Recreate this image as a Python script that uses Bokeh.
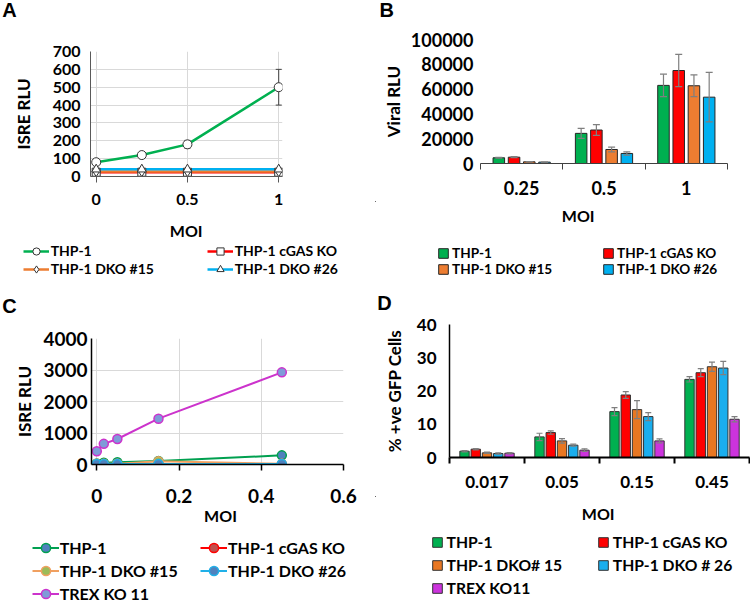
import math
from bokeh.plotting import figure
from bokeh.layouts import row, column
from bokeh.models import (ColumnDataSource, Range1d, FixedTicker, Legend, LegendItem,
                          Label, Whisker, TeeHead, NumeralTickFormatter)
from bokeh.embed import file_html
from bokeh.resources import INLINE

try:
    from bokeh.models import ScrollBox

    def wrap(p, w, h):
        return ScrollBox(child=p, width=w, height=h,
                         horizontal_scrollbar="hidden", vertical_scrollbar="hidden")
except ImportError:
    def wrap(p, w, h):
        return column(p)

FONT = "Lato"

# ---------------- data ----------------
series4 = ["THP-1", "THP-1 cGAS KO", "THP-1 DKO #15", "THP-1 DKO #26"]
colors4 = ["#00B050", "#FF0000", "#ED7D31", "#00B0F0"]

# Panel A
moi_a = [0, 0.25, 0.5, 1]
a_thp1 = [80, 120, 180, 500]
a_thp1_err = [8, 14, 22, 100]
a_cgas = [24, 24, 24, 24]
a_dko15 = [28, 28, 28, 28]
a_dko26 = [40, 40, 40, 40]

# Panel B
moi_b = ["0.25", "0.5", "1"]
b_thp1 = [4600, 24300, 63000]
b_thp1_err = [300, 4000, 9000]
b_cgas = [5100, 27000, 75000]
b_cgas_err = [400, 4300, 13000]
b_dko15 = [1350, 11300, 62700]
b_dko15_err = [150, 1900, 8700]
b_dko26 = [1100, 8100, 53500]
b_dko26_err = [100, 1350, 20000]

# Panel C
series5c = ["THP-1", "THP-1 cGAS KO", "THP-1 DKO #15", "THP-1 DKO #26", "TREX KO 11"]
line_colors_c = ["#00A050", "#FF0000", "#F0A060", "#20B0E8", "#CC33CC"]
marker_fill_c = ["#4F81BD", "#C0504D", "#9BBB59", "#4F81BD", "#7F9BD8"]
moi_c = [0, 0.017, 0.05, 0.15, 0.45]
c_thp1 = [35, 55, 70, 110, 290]
c_cgas = [12, 12, 12, 12, 12]
c_dko15 = [20, 20, 25, 100, 20]
c_dko26 = [15, 15, 15, 15, 15]
c_trex = [420, 655, 810, 1455, 2925]

# Panel D
series5d = ["THP-1", "THP-1 cGAS KO", "THP-1 DKO# 15", "THP-1 DKO # 26", "TREX KO11"]
colors5d = ["#00B050", "#FF0000", "#E87722", "#1AAEEE", "#CC33DD"]
moi_d = ["0.017", "0.05", "0.15", "0.45"]
d_thp1 = [1.9, 6.2, 13.8, 23.5]
d_thp1_err = [0.2, 1.1, 1.2, 0.8]
d_cgas = [2.5, 7.5, 18.8, 25.5]
d_cgas_err = [0.2, 0.5, 1.0, 1.2]
d_dko15 = [1.4, 5.0, 14.4, 27.3]
d_dko15_err = [0.2, 0.7, 2.7, 1.4]
d_dko26 = [1.2, 3.7, 12.3, 26.9]
d_dko26_err = [0.2, 0.3, 1.2, 2.0]
d_trex = [1.3, 2.2, 5.0, 11.5]
d_trex_err = [0.2, 0.4, 0.6, 0.8]

PW = 375   # panel width
OFF = [-60]  # legend swatch renderers sit outside the visible area


# ---------------- helpers ----------------
def make_plot(px0, fy0, fy1, frame, xr, yr):
    x0, y0, x1, y1 = frame
    p = figure(frame_width=x1 - x0, frame_height=y1 - y0,
               min_border_left=x0 - px0, min_border_right=px0 + PW - x1,
               min_border_top=y0 - fy0, min_border_bottom=fy1 - y1,
               x_range=Range1d(*xr), y_range=Range1d(*yr),
               output_backend="svg", toolbar_location=None,
               outline_line_color=None, border_fill_color="white",
               background_fill_color="white")
    return p


def make_blank(h):
    p = figure(frame_width=PW, frame_height=h, min_border=0,
               min_border_left=0, min_border_right=0, min_border_top=0, min_border_bottom=0,
               x_range=Range1d(0, PW), y_range=Range1d(h, 0),
               x_axis_location=None, y_axis_location=None,
               output_backend="svg", toolbar_location=None,
               outline_line_color=None, border_fill_color="white",
               background_fill_color="white")
    p.grid.visible = False
    return p


def add_text(p, x, y, text, size, font=FONT, align="left"):
    p.add_layout(Label(x=x, y=y, text=text, text_font=font, text_font_style="bold",
                       text_font_size=f"{size}px", text_color="black",
                       text_align=align, text_baseline="middle"))


def style_axis(ax, size, line_color, line_width, tick_out, standoff):
    ax.major_label_text_font = FONT
    ax.major_label_text_font_style = "bold"
    ax.major_label_text_font_size = f"{size}px"
    ax.major_label_text_color = "black"
    ax.axis_line_color = line_color
    ax.axis_line_width = line_width
    ax.major_tick_out = tick_out
    ax.major_tick_in = 0
    ax.minor_tick_out = 0
    ax.minor_tick_in = 0
    ax.major_tick_line_color = line_color
    ax.major_tick_line_width = line_width
    ax.major_label_standoff = standoff


def y_title(ax, text, standoff):
    ax.axis_label = text
    ax.axis_label_text_font = FONT
    ax.axis_label_text_font_style = "bold"
    ax.axis_label_text_font_size = "17px"
    ax.axis_label_text_color = "black"
    ax.axis_label_standoff = standoff


def legend_common(fsize, standoff):
    return dict(orientation="vertical", padding=0, margin=0,
                border_line_color=None, background_fill_alpha=0,
                label_standoff=standoff, label_text_font=FONT,
                label_text_font_style="bold", label_text_font_size=f"{fsize}px",
                label_text_color="black")


def add_line_legend(p, h, items, left, row1, pitch, gw, standoff, fsize):
    lh = int(round(pitch))
    bottom = row1 - lh / 2 + len(items) * lh
    p.add_layout(Legend(items=items, location=(left, h - bottom), spacing=0,
                        glyph_width=gw, glyph_height=lh, label_height=lh,
                        **legend_common(fsize, standoff)))


def add_box_legend(p, h, items, left, row1, pitch, standoff, fsize, th):
    # th: height that one label row takes
    sp = max(0, int(round(pitch - th)))
    top = row1 - th / 2
    bottom = top + len(items) * th + (len(items) - 1) * sp
    p.add_layout(Legend(items=items, location=(left, h - bottom), spacing=sp,
                        glyph_width=12, glyph_height=12, label_height=12,
                        label_text_line_height=0.7,
                        **legend_common(fsize, standoff)))


def cat_axis(p, cats, size, standoff, line_color, line_width):
    centers = [i + 0.5 for i in range(len(cats))]
    bounds = [float(i) for i in range(len(cats) + 1)]
    ax = p.xaxis[0]
    ax.ticker = FixedTicker(ticks=centers, minor_ticks=bounds)
    ax.major_label_overrides = {c: lab for c, lab in zip(centers, cats)}
    style_axis(ax, size, line_color, line_width, 0, standoff)
    ax.minor_tick_out = 6
    ax.minor_tick_line_color = line_color
    ax.minor_tick_line_width = line_width
    return centers


def whisker(src, color, width, head, level):
    return Whisker(source=src, base="x", upper="up", lower="lo", line_color=color,
                   line_width=width, level=level,
                   upper_head=TeeHead(size=head, line_color=color, line_width=width),
                   lower_head=TeeHead(size=head, line_color=color, line_width=width))


# ================= Panel A =================
topA = make_blank(40)
add_text(topA, 1.7, 9.7, "A", 20, font="Liberation Sans")

pA = make_plot(0, 40, 214, (90, 51, 282, 176), (-0.0312, 1.0208), (0, 700))
style_axis(pA.xaxis[0], 16, "#595959", 1, 6, 11)
style_axis(pA.yaxis[0], 16, "#595959", 1, 0, 10)
y_title(pA.yaxis[0], "ISRE RLU", 16)
pA.xaxis.ticker = FixedTicker(ticks=[0, 0.5, 1])
pA.xaxis.major_label_overrides = {0: "0", 0.5: "0.5", 1: "1"}
pA.yaxis.ticker = FixedTicker(ticks=list(range(0, 701, 100)))
pA.xgrid.grid_line_color = "#D9D9D9"
pA.ygrid.grid_line_color = "#D9D9D9"

srcA = ColumnDataSource(dict(x=moi_a, thp1=a_thp1, cgas=a_cgas, dko15=a_dko15, dko26=a_dko26,
                             up=[v + e for v, e in zip(a_thp1, a_thp1_err)],
                             lo=[v - e for v, e in zip(a_thp1, a_thp1_err)]))
markersA = ["circle", "square", "diamond", "triangle"]
sizesA = [9, 8, 10, 9]
pA.add_layout(whisker(srcA, "#404040", 1, 6, "underlay"))
for col, key in zip(colors4, ["thp1", "cgas", "dko15", "dko26"]):
    pA.line("x", key, source=srcA, line_color=col, line_width=2.5)
for key, mk, sz in zip(["thp1", "cgas", "dko15", "dko26"], markersA, sizesA):
    pA.scatter("x", key, source=srcA, marker=mk, size=sz, fill_color="white",
               line_color="#333333", line_width=1)

botA = make_blank(81)
add_text(botA, 185.7, 15.7, "MOI", 16, align="center")
itemsA = []
for name, col, mk in zip(series4, colors4, markersA):
    ln = botA.line(OFF, OFF, line_color=col, line_width=2.5)
    sc = botA.scatter(OFF, OFF, marker=mk, fill_color="white", line_color="#333333", line_width=1)
    itemsA.append(LegendItem(label=name, renderers=[ln, sc]))
add_line_legend(botA, 81, [itemsA[0], itemsA[2]], 22.7, 36.7, 18.3, 26, 2, 14)
add_line_legend(botA, 81, [itemsA[1], itemsA[3]], 206.7, 36.7, 18.3, 26, 2, 14)

# ================= Panel B =================
topB = make_blank(28)
add_text(topB, 4, 9.7, "B", 20, font="Liberation Sans")

pB = make_plot(PW, 28, 201, (480, 39, 727, 163), (0, len(moi_b)), (0, 100000))
centersB = cat_axis(pB, moi_b, 18, 11, "#404040", 1)
style_axis(pB.yaxis[0], 18, None, 1, 0, 7)
y_title(pB.yaxis[0], "Viral RLU", 4)
pB.yaxis.ticker = FixedTicker(ticks=list(range(0, 100001, 20000)))
pB.yaxis.formatter = NumeralTickFormatter(format="0")
pB.xgrid.visible = False
pB.ygrid.visible = False

botB = make_blank(90)
add_text(botB, 202.7, 14, "MOI", 16, align="center")
stepB, widthB = 0.185, 0.14
itemsB = []
for j, (name, col, vals, errs) in enumerate(zip(series4, colors4,
                                                 [b_thp1, b_cgas, b_dko15, b_dko26],
                                                 [b_thp1_err, b_cgas_err, b_dko15_err, b_dko26_err])):
    xs = [c + (j - 1.5) * stepB for c in centersB]
    src = ColumnDataSource(dict(x=xs, top=vals, up=[v + e for v, e in zip(vals, errs)],
                                lo=[v - e for v, e in zip(vals, errs)]))
    pB.vbar(x="x", top="top", width=widthB, source=src, fill_color=col,
            line_color="#262626", line_width=1)
    pB.add_layout(whisker(src, "#7F7F7F", 1.2, 7, "annotation"))
    r = botB.vbar(x=OFF, top=OFF, width=1, fill_color=col, line_color="#262626", line_width=1)
    itemsB.append(LegendItem(label=name, renderers=[r]))
add_box_legend(botB, 90, [itemsB[0], itemsB[2]], 62, 47.5, 17.4, 3, 13.6, 19)
add_box_legend(botB, 90, [itemsB[1], itemsB[3]], 227, 47.5, 17.4, 3, 13.6, 19)

# ================= Panel C =================
topC = make_blank(31)
add_text(topC, 1.7, 10.3, "C", 20, font="Liberation Sans")

pC = make_plot(0, 326, 505, (91, 338, 343, 464), (-0.0129, 0.6), (0, 4000))
style_axis(pC.xaxis[0], 19, "black", 1.5, 6, 18)
style_axis(pC.yaxis[0], 19, "black", 1.5, 0, 4)
y_title(pC.yaxis[0], "ISRE RLU", 5)
pC.xaxis.ticker = FixedTicker(ticks=[0, 0.2, 0.4, 0.6])
pC.xaxis.major_label_overrides = {0: "0", 0.2: "0.2", 0.4: "0.4", 0.6: "0.6"}
pC.yaxis.ticker = FixedTicker(ticks=list(range(0, 4001, 1000)))
pC.xgrid.grid_line_color = "#D9D9D9"
pC.ygrid.grid_line_color = "#D9D9D9"

srcC = ColumnDataSource(dict(x=moi_c, thp1=c_thp1, cgas=c_cgas, dko15=c_dko15, dko26=c_dko26, trex=c_trex))
botC = make_blank(97)
add_text(botC, 220, 10, "MOI", 16, align="center")
itemsC = []
for name, lc, mf, key in zip(series5c, line_colors_c, marker_fill_c, ["thp1", "cgas", "dko15", "dko26", "trex"]):
    pC.line("x", key, source=srcC, line_color=lc, line_width=2)
    pC.scatter("x", key, source=srcC, marker="circle", size=9, fill_color=mf,
               line_color=lc, line_width=1.5)
    ln = botC.line(OFF, OFF, line_color=lc, line_width=2)
    sc = botC.scatter(OFF, OFF, marker="circle", fill_color=mf, line_color=lc, line_width=1.5)
    itemsC.append(LegendItem(label=name, renderers=[ln, sc]))
add_line_legend(botC, 97, [itemsC[0], itemsC[2], itemsC[4]], 31.7, 42.7, 23.3, 27, 1, 16)
add_line_legend(botC, 97, [itemsC[1], itemsC[3]], 200, 42.7, 23.3, 27, 1, 16)

# ================= Panel D =================
topD = make_blank(23)
add_text(topD, 1.7, 11.6, "D", 20, font="Liberation Sans")

pD = make_plot(PW, 314, 496, (449, 324, 749, 457), (0, len(moi_d)), (0, 40))
centersD = cat_axis(pD, moi_d, 17, 12, "black", 2)
style_axis(pD.yaxis[0], 17, "black", 1.5, 0, 13)
y_title(pD.yaxis[0], "% +ve GFP Cells", 9)
pD.yaxis.ticker = FixedTicker(ticks=list(range(0, 41, 10)))
pD.xgrid.visible = False
pD.ygrid.visible = False

botD = make_blank(106)
add_text(botD, 222.7, 17, "MOI", 16, align="center")
stepD, widthD = 0.15, 0.125
itemsD = []
for j, (name, col, vals, errs) in enumerate(zip(series5d, colors5d,
                                                 [d_thp1, d_cgas, d_dko15, d_dko26, d_trex],
                                                 [d_thp1_err, d_cgas_err, d_dko15_err, d_dko26_err, d_trex_err])):
    xs = [c + (j - 2) * stepD for c in centersD]
    src = ColumnDataSource(dict(x=xs, top=vals, up=[v + e for v, e in zip(vals, errs)],
                                lo=[v - e for v, e in zip(vals, errs)]))
    pD.vbar(x="x", top="top", width=widthD, source=src, fill_color=col,
            line_color="#333333", line_width=1)
    pD.add_layout(whisker(src, "#7F7F7F", 1.2, 6, "annotation"))
    r = botD.vbar(x=OFF, top=OFF, width=1, fill_color=col, line_color="#333333", line_width=1)
    itemsD.append(LegendItem(label=name, renderers=[r]))
add_box_legend(botD, 106, [itemsD[0], itemsD[2], itemsD[4]], 55.5, 45.7, 22.8, 4, 15.7, 18)
add_box_legend(botD, 106, [itemsD[1], itemsD[3]], 221.8, 45.7, 22.8, 4, 15.7, 18)

# Left column: panels A and C; right column: panels B and D
left_col = column(wrap(topA, PW, 40), wrap(pA, PW, 174), wrap(botA, PW, 81),
                  wrap(topC, PW, 31), wrap(pC, PW, 179), wrap(botC, PW, 97))
right_col = column(wrap(topB, PW, 28), wrap(pB, PW, 173), wrap(botB, PW, 90),
                   wrap(topD, PW, 23), wrap(pD, PW, 182), wrap(botD, PW, 106))
layout = row(left_col, right_col)
open("out.html", "w").write(file_html(layout, INLINE))
